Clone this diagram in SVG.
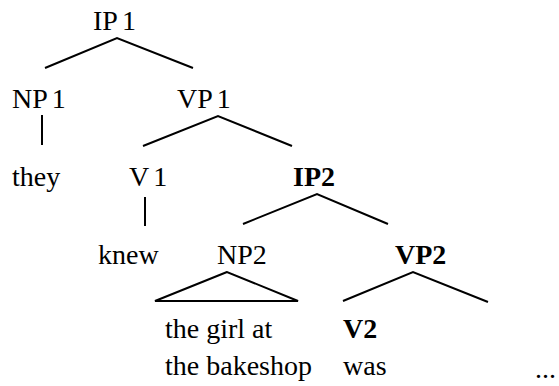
<svg xmlns="http://www.w3.org/2000/svg" width="559" height="386" viewBox="0 0 559 386">
  <style>
    text { font-family: "Liberation Serif", "Times New Roman", serif; font-size: 28px; fill: #000; }
    .b { font-weight: bold; }
    .edge { stroke: #000; stroke-width: 2; fill: none; stroke-linecap: butt; }
  </style>
  <rect width="559" height="386" fill="#fff"/>
  <g id="connectors">
    <polyline class="edge" points="45,68 117,38 193,68"/>
    <line class="edge" x1="42" y1="115" x2="42" y2="145"/>
    <polyline class="edge" points="143,146 218,116 292,146"/>
    <line class="edge" x1="145" y1="197" x2="145" y2="226"/>
    <polyline class="edge" points="243,224 317,194 388,224"/>
    <polygon class="edge" points="227,272 155,301 298,301"/>
    <polyline class="edge" points="343,301 413,272 488,302"/>
  </g>
  <g id="IP1"><text x="93" y="30">IP<tspan dx="4">1</tspan></text></g>
  <g id="NP1"><text x="12" y="108">NP<tspan dx="4">1</tspan></text></g>
  <g id="VP1"><text x="177" y="108">VP<tspan dx="4">1</tspan></text></g>
  <g id="they"><text x="12" y="186">they</text></g>
  <g id="V1"><text x="129" y="186">V<tspan dx="4">1</tspan></text></g>
  <g id="IP2"><text class="b" x="293" y="186">IP2</text></g>
  <g id="knew"><text x="98" y="264">knew</text></g>
  <g id="NP2"><text x="217" y="264">NP2</text></g>
  <g id="VP2"><text class="b" x="395" y="264">VP2</text></g>
  <g id="NP2-yield">
    <text x="165" y="338">the girl at</text>
    <text x="165" y="375">the bakeshop</text>
  </g>
  <g id="V2"><text class="b" x="343" y="338">V2</text></g>
  <g id="was"><text x="343" y="375">was</text></g>
  <g id="ellipsis"><text x="535" y="378">...</text></g>
</svg>
